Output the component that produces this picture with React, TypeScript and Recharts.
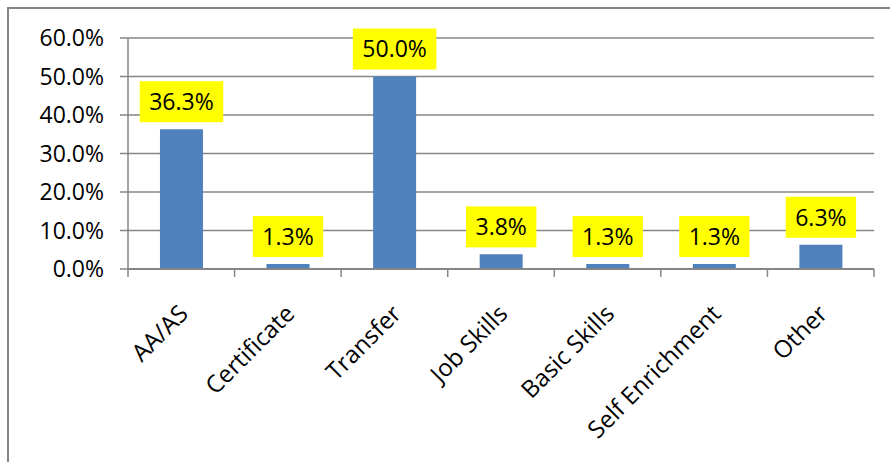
import React from 'react';
import { BarChart, Bar, XAxis, YAxis, CartesianGrid, LabelList } from 'recharts';

const categories = ['AA/AS', 'Certificate', 'Transfer', 'Job Skills', 'Basic Skills', 'Self Enrichment', 'Other'];
const values = [36.3, 1.3, 50.0, 3.8, 1.3, 1.3, 6.3];
const yTicks = [0, 10, 20, 30, 40, 50, 60];

const data = categories.map((name, i) => ({ name, value: values[i] }));

const W = 890;
const H = 462;
const M = { top: 38, right: 16, left: 0, bottom: 43 };
const Y_W = 128;
const X_H = 150;
const BW = (W - M.left - M.right - Y_W) / categories.length;
const FONT = '"Open Sans", sans-serif';
const FS = 23;
const FS_CAT = 24;
const GRAY = '#868686';
const TXT_STYLE: React.CSSProperties = { fontVariantLigatures: 'none' };

const fmt = (v: number) => v.toFixed(1) + '%';

let ctx: CanvasRenderingContext2D | null = null;
function measure(t: string) {
  if (!ctx) {
    const c = document.createElement('canvas');
    ctx = c.getContext('2d');
  }
  if (!ctx) return t.length * FS * 0.55;
  ctx.font = `${FS}px ${FONT}`;
  return ctx.measureText(t).width;
}

const XTick = (props: any) => {
  const { x, y, payload, index } = props;
  const px = x - 4;
  const py = y + 34;
  return (
    <g>
      <line x1={x - BW / 2} x2={x - BW / 2} y1={y} y2={y + 8} stroke={GRAY} strokeWidth={1.5} />
      {index === categories.length - 1 && (
        <line x1={x + BW / 2} x2={x + BW / 2} y1={y} y2={y + 8} stroke={GRAY} strokeWidth={1.5} />
      )}
      <text
        x={px}
        y={py}
        dy="0.72em"
        textAnchor="end"
        transform={`rotate(-45, ${px}, ${py})`}
        fontFamily={FONT}
        fontSize={FS_CAT}
        fill="#000"
        style={TXT_STYLE}
      >
        {payload.value}
      </text>
    </g>
  );
};

const BarLabel = (props: any) => {
  const { x, y, width, value } = props;
  const txt = fmt(Number(value));
  const tw = measure(txt);
  const bw = tw + 19;
  const bh = 41;
  const cx = x + width / 2;
  const bottom = y - 7;
  return (
    <g>
      <rect x={cx - bw / 2} y={bottom - bh} width={bw} height={bh} fill="#FFFF00" />
      <text
        x={cx}
        y={bottom - bh / 2}
        dy="0.36em"
        textAnchor="middle"
        fontFamily={FONT}
        fontSize={FS}
        fill="#000"
      >
        {txt}
      </text>
    </g>
  );
};

export default function App() {
  return (
    <div style={{ position: 'absolute', left: 0, top: 0, width: W, height: H, background: '#fff' }}>
      <div
        style={{
          position: 'absolute',
          left: 7,
          top: 7,
          width: W - 7,
          height: H - 7,
          borderLeft: `2px solid ${GRAY}`,
          borderTop: `2px solid ${GRAY}`,
          boxSizing: 'border-box',
        }}
      />
      <div style={{ position: 'absolute', left: 0, top: 0 }}>
        <BarChart width={W} height={H} data={data} margin={M} barCategoryGap="30%">
          <CartesianGrid vertical={false} stroke={GRAY} strokeWidth={1.5} />
          <XAxis
            dataKey="name"
            height={X_H}
            interval={0}
            tickSize={0}
            tickMargin={0}
            tickLine={false}
            axisLine={{ stroke: GRAY, strokeWidth: 2 }}
            tick={<XTick />}
          />
          <YAxis
            width={Y_W}
            domain={[0, 60]}
            ticks={yTicks}
            tickFormatter={fmt}
            tickSize={8}
            tickMargin={16}
            axisLine={{ stroke: GRAY, strokeWidth: 1.5 }}
            tickLine={{ stroke: GRAY, strokeWidth: 1.5 }}
            tick={{ fontFamily: FONT, fontSize: FS, fill: '#000' }}
          />
          <Bar dataKey="value" fill="#4F81BD" isAnimationActive={false}>
            <LabelList dataKey="value" content={<BarLabel />} />
          </Bar>
        </BarChart>
      </div>
    </div>
  );
}
